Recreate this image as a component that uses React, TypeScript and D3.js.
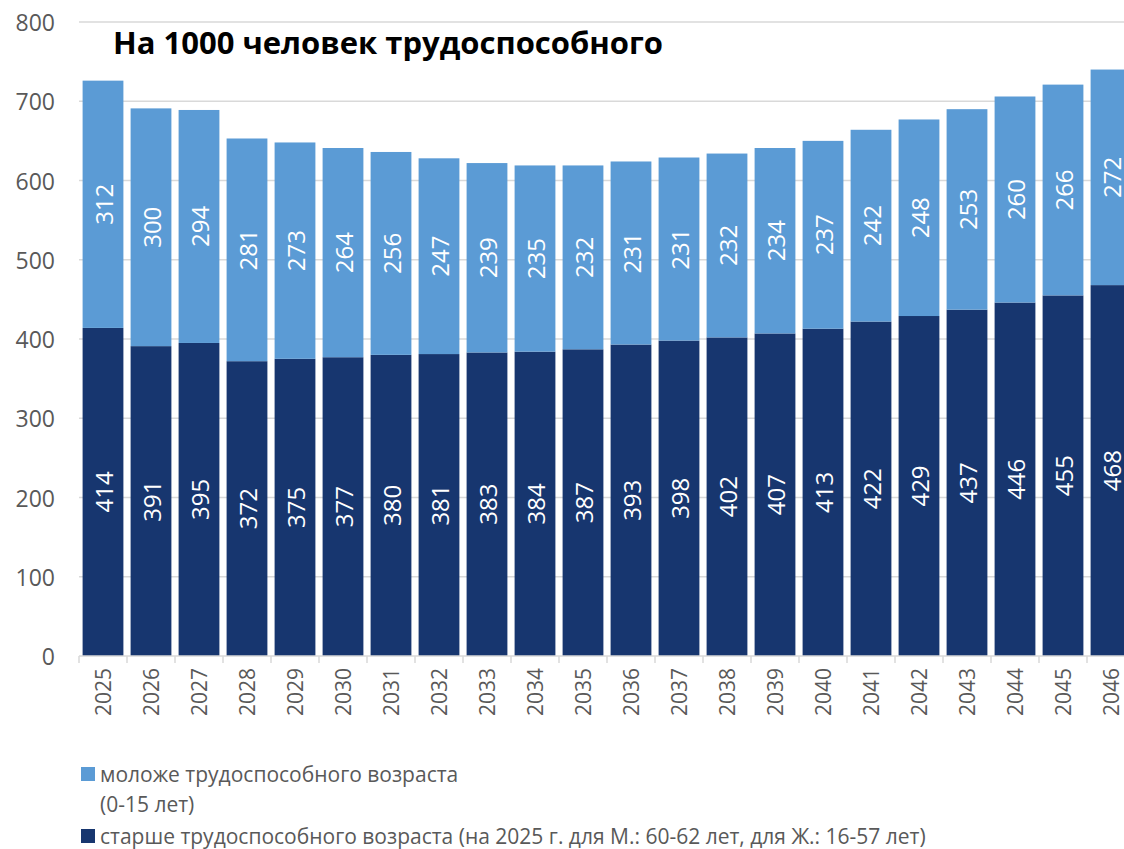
import React, { useEffect, useRef } from 'react'
import * as d3 from 'd3'

const years = ['2025', '2026', '2027', '2028', '2029', '2030', '2031', '2032', '2033', '2034', '2035',
  '2036', '2037', '2038', '2039', '2040', '2041', '2042', '2043', '2044', '2045', '2046']
const older = [414, 391, 395, 372, 375, 377, 380, 381, 383, 384, 387, 393, 398, 402, 407, 413, 422, 429, 437, 446, 455, 468]
const younger = [312, 300, 294, 281, 273, 264, 256, 247, 239, 235, 232, 231, 231, 232, 234, 237, 242, 248, 253, 260, 266, 272]
const yTicks = [0, 100, 200, 300, 400, 500, 600, 700, 800]

const title = 'На 1000 человек трудоспособного'
const legendYoung = ['моложе трудоспособного возраста', '(0-15 лет)']
const legendOld = 'старше трудоспособного возраста (на 2025 г. для М.: 60-62 лет, для Ж.: 16-57 лет)'

const LIGHT = '#5b9bd5'
const DARK = '#17366f'
const GRAY = '#595959'
const FONT = '"Open Sans", sans-serif'

export default function App() {
  const ref = useRef<SVGSVGElement>(null)

  useEffect(() => {
    const w = 1124
    const h = 849
    const left = 79
    const bandW = 48
    const svg = d3.select(ref.current).attr('width', w).attr('height', h)
    svg.selectAll('*').remove()

    const x = d3.scaleBand().domain(years).range([left, left + bandW * years.length]).paddingInner(0.15).paddingOuter(0.075)
    const y = d3.scaleLinear().domain([0, 800]).range([656, 22])

    // gridlines + y labels
    svg.append('g').selectAll('line').data(yTicks.slice(1)).join('line')
      .attr('x1', left).attr('x2', w).attr('y1', d => y(d)).attr('y2', d => y(d))
      .attr('stroke', '#d9d9d9').attr('stroke-width', 1.5)
    svg.append('g').selectAll('text').data(yTicks).join('text')
      .attr('x', 55).attr('y', d => y(d)).attr('text-anchor', 'end').attr('dominant-baseline', 'central')
      .attr('font-family', FONT).attr('font-size', 23).attr('fill', GRAY).text(d => d)

    const rows = years.map((yr, i) => ({ yr, o: older[i], yo: younger[i] }))

    // bars
    const g = svg.append('g')
    g.selectAll('.old').data(rows).join('rect')
      .attr('x', d => x(d.yr)!).attr('width', x.bandwidth())
      .attr('y', d => y(d.o)).attr('height', d => y(0) - y(d.o)).attr('fill', DARK)
    g.selectAll('.young').data(rows).join('rect')
      .attr('x', d => x(d.yr)!).attr('width', x.bandwidth())
      .attr('y', d => y(d.o + d.yo)).attr('height', d => y(d.o) - y(d.o + d.yo)).attr('fill', LIGHT)

    // value labels
    const lab = (val: (d: any) => number, mid: (d: any) => number) =>
      g.append('g').selectAll('text').data(rows).join('text')
        .attr('transform', d => `translate(${x(d.yr)! + x.bandwidth() / 2}, ${y(mid(d))}) rotate(-90)`)
        .attr('text-anchor', 'middle').attr('dominant-baseline', 'central')
        .attr('font-family', FONT).attr('font-size', 24).attr('fill', 'white').text(val)
    lab(d => d.o, d => d.o / 2)
    lab(d => d.yo, d => d.o + d.yo / 2)

    // x axis
    const ax = svg.append('g')
    ax.append('line').attr('x1', left).attr('x2', w).attr('y1', y(0)).attr('y2', y(0))
      .attr('stroke', '#d9d9d9').attr('stroke-width', 1.5)
    ax.selectAll('.tk').data(d3.range(years.length + 1)).join('line')
      .attr('x1', i => left + i * bandW).attr('x2', i => left + i * bandW)
      .attr('y1', y(0)).attr('y2', y(0) + 7).attr('stroke', '#d9d9d9').attr('stroke-width', 1.5)
    ax.selectAll('text').data(years).join('text')
      .attr('transform', d => `translate(${x(d)! + x.bandwidth() / 2}, 668) rotate(-90)`)
      .attr('text-anchor', 'end').attr('dominant-baseline', 'central')
      .attr('font-family', FONT).attr('font-size', 21).attr('fill', GRAY).text(d => d)

    // title
    svg.append('text').attr('x', 113).attr('y', 54).attr('font-family', FONT)
      .attr('font-size', 31).attr('font-weight', 'bold').attr('fill', 'black').text(title)

    // legend
    const lg = svg.append('g').attr('font-family', FONT).attr('font-size', 21).attr('fill', GRAY)
    lg.append('rect').attr('x', 81).attr('y', 767).attr('width', 14).attr('height', 14).attr('fill', LIGHT)
    lg.append('text').attr('x', 100).attr('y', 782).text(legendYoung[0])
    lg.append('text').attr('x', 100).attr('y', 812).text(legendYoung[1])
    lg.append('rect').attr('x', 81).attr('y', 829).attr('width', 14).attr('height', 14).attr('fill', DARK)
    lg.append('text').attr('x', 100).attr('y', 844).text(legendOld)
  }, [])

  return (
    <div style={{ position: 'absolute', left: 0, top: 0, width: 1124, height: 849, overflow: 'hidden', background: 'white' }}>
      <svg ref={ref} style={{ display: 'block' }} />
    </div>
  )
}
